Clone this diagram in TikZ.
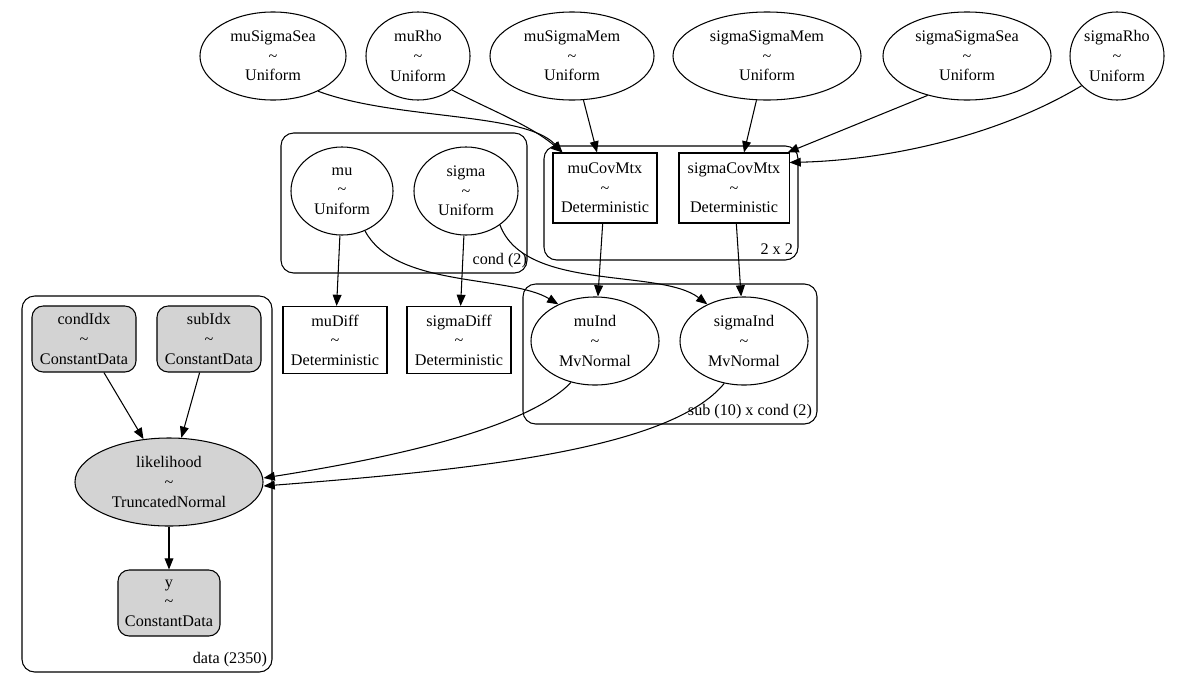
\documentclass[tikz,border=0pt]{standalone}
\usepackage{fontspec}
\setmainfont{Liberation Serif}
\usepackage{tikz}
\usetikzlibrary{shapes.geometric, arrows.meta, positioning}
\definecolor{obsgray}{HTML}{D3D3D3}

\begin{document}
\begin{tikzpicture}[
  x=0.025cm, y=-0.025cm,
  font=\fontsize{11.5}{13.9}\selectfont,
  rv/.style={ellipse, draw, line width=0.75pt, minimum height=2.2cm, inner sep=0pt, align=center},
  det/.style={rectangle, draw, line width=0.75pt, minimum width=2.6cm, minimum height=1.75cm, inner sep=0pt, align=center},
  obs/.style={rectangle, rounded corners=8pt, draw, line width=0.75pt, fill=obsgray, minimum width=2.6cm, minimum height=1.65cm, inner sep=0pt, align=center},
  plate/.style={draw, line width=0.75pt, rounded corners=9pt},
  platelabel/.style={anchor=south east, inner sep=2pt},
  arr/.style={-{Triangle[length=0.28cm, width=0.22cm]}, line width=0.75pt}
]
  \useasboundingbox (0,0) rectangle (1200,678);

  % plates
  \draw[plate] (281,133) rectangle (527,273);
  \node[platelabel] (lcond) at (530,271) {cond (2)};
  \draw[plate] (544,146) rectangle (798,260);
  \node[platelabel] (lmtx) at (796,258) {2 x 2};
  \draw[plate] (523,284) rectangle (817,424);
  \node[platelabel] (lsub) at (815,422) {sub (10) x cond (2)};
  \draw[plate] (22,296) rectangle (272,672);
  \node[platelabel] (ldata) at (270,670) {data (2350)};

  % priors
  \node[rv, minimum width=3.65cm] (musigsea) at (273,56) {muSigmaSea\\\textasciitilde\\Uniform};
  \node[rv, minimum width=2.6cm]  (murho)    at (418,56) {muRho\\\textasciitilde\\Uniform};
  \node[rv, minimum width=4.1cm]  (musigmem) at (572,56) {muSigmaMem\\\textasciitilde\\Uniform};
  \node[rv, minimum width=4.7cm]  (sigsigmem) at (767,56) {sigmaSigmaMem\\\textasciitilde\\Uniform};
  \node[rv, minimum width=4.2cm]  (sigsigsea) at (967,56) {sigmaSigmaSea\\\textasciitilde\\Uniform};
  \node[rv, minimum width=2.35cm] (sigrho)   at (1117,56) {sigmaRho\\\textasciitilde\\Uniform};

  \node[rv, minimum width=2.55cm] (mu)    at (342,191) {mu\\\textasciitilde\\Uniform};
  \node[rv, minimum width=2.6cm]  (sigma) at (466,191) {sigma\\\textasciitilde\\Uniform};

  \node[det] (mucov)  at (605,188) {muCovMtx\\\textasciitilde\\Deterministic};
  \node[det, minimum width=2.75cm] (sigcov) at (734,188) {sigmaCovMtx\\\textasciitilde\\Deterministic};

  \node[det, minimum height=1.675cm] (mudiff)  at (335,340) {muDiff\\\textasciitilde\\Deterministic};
  \node[det, minimum height=1.675cm] (sigdiff) at (459,340) {sigmaDiff\\\textasciitilde\\Deterministic};

  \node[rv, minimum width=3.2cm] (muind)  at (595,341) {muInd\\\textasciitilde\\MvNormal};
  \node[rv, minimum width=3.2cm] (sigind) at (744,341) {sigmaInd\\\textasciitilde\\MvNormal};

  \node[obs] (condidx) at (84,339)  {condIdx\\\textasciitilde\\ConstantData};
  \node[obs] (subidx)  at (209,339) {subIdx\\\textasciitilde\\ConstantData};
  \node[rv, fill=obsgray, minimum width=4.7cm] (lik) at (169,482) {likelihood\\\textasciitilde\\TruncatedNormal};
  \node[obs, minimum width=2.55cm] (y) at (169,603) {y\\\textasciitilde\\ConstantData};

  % edges
  \draw[arr] (musigsea.-38) .. controls (395,120) and (525,112) .. ([xshift=0.25cm]mucov.north west);
  \draw[arr] (murho.-45) .. controls (490,110) and (530,125) .. ([xshift=0.25cm]mucov.north west);
  \draw[arr] (musigmem) -- ([xshift=-0.2cm]mucov.north);
  \draw[arr] (sigsigmem) -- ([xshift=0.25cm]sigcov.north);
  \draw[arr] (sigsigsea.-135) -- ([xshift=-0.05cm]sigcov.north east);
  \draw[arr] (sigrho.-140) .. controls (1000,135) and (890,160) .. ([yshift=-0.25cm]sigcov.north east);

  \draw[arr] (mu) -- (mudiff);
  \draw[arr] (sigma) -- (sigdiff);
  \draw[arr] (mu.-60) .. controls (395,288) and (510,275) .. (muind.135);
  \draw[arr] (sigma.-45) .. controls (525,292) and (660,268) .. (sigind.135);
  \draw[arr] (mucov) -- (muind);
  \draw[arr] (sigcov) -- (sigind);

  \draw[arr] (condidx) -- (lik);
  \draw[arr] (subidx) -- (lik);
  \draw[arr] (muind.-120) .. controls (530,425) and (410,455) .. ([yshift=0.1cm]lik.east);
  \draw[arr] (sigind.-115) .. controls (670,450) and (470,470) .. ([yshift=-0.1cm]lik.east);
  \draw[arr] (lik) -- (y);
\end{tikzpicture}
\end{document}
